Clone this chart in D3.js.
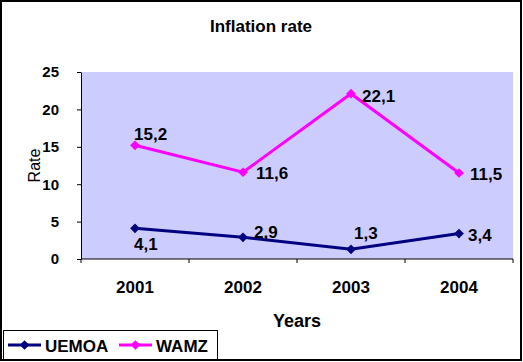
<!DOCTYPE html>
<html>
<head>
<meta charset="utf-8">
<script src="https://cdn.jsdelivr.net/npm/d3@7"></script>
<style>
  body { margin: 0; background: #fff; }
  svg { display: block; font-family: "Liberation Sans", Arial, sans-serif; }
</style>
</head>
<body>
<svg id="chart" width="523" height="362"></svg>
<script>
const years = ["2001", "2002", "2003", "2004"];
const uemoa = [4.1, 2.9, 1.3, 3.4];
const wamz = [15.2, 11.6, 22.1, 11.5];
const yTicks = [0, 5, 10, 15, 20, 25];

// label offsets from each point [dx, dy]
const uemoaLabelOffsets = [[-1, 22], [11, 1], [3, -10], [9, 7]];
const wamzLabelOffsets = [[-1, -5], [13, 7], [11, 8], [11, 7]];

const series = [
  { name: "UEMOA", values: uemoa, color: "#000080", offsets: uemoaLabelOffsets },
  { name: "WAMZ", values: wamz, color: "#ff00ff", offsets: wamzLabelOffsets },
];

const svg = d3.select("#chart");
const margin = { left: 81, right: 10, top: 72, bottom: 103 };
const width = +svg.attr("width");
const height = +svg.attr("height");

svg.append("rect")
  .attr("x", 1).attr("y", 1)
  .attr("width", width - 3).attr("height", height - 3)
  .attr("fill", "#fff").attr("stroke", "#000").attr("stroke-width", 2);

const x = d3.scaleBand(years, [margin.left, width - margin.right]);
const y = d3.scaleLinear([0, 25], [height - margin.bottom, margin.top]);

svg.append("rect")
  .attr("x", margin.left).attr("y", y(25))
  .attr("width", width - margin.right - margin.left)
  .attr("height", y(0) - y(25))
  .attr("fill", "#ccccff");

// y axis
const yAxis = svg.append("g")
  .attr("transform", `translate(${margin.left},0)`)
  .call(d3.axisLeft(y).tickValues(yTicks).tickSize(4).tickSizeOuter(0).tickPadding(18));
yAxis.selectAll("text")
  .attr("font-size", 15).attr("font-weight", "bold").attr("fill", "#000")
  .attr("font-family", "Liberation Sans, Arial, sans-serif");

// x axis with ticks at band edges
const xAxis = svg.append("g")
  .attr("transform", `translate(0,${y(0)})`)
  .call(d3.axisBottom(x).tickSize(0).tickPadding(22));
xAxis.select(".domain").remove();
xAxis.selectAll("text")
  .attr("font-size", 17).attr("font-weight", "bold").attr("fill", "#000")
  .attr("font-family", "Liberation Sans, Arial, sans-serif");

const edges = years.map((d) => x(d)).concat([x(years[years.length - 1]) + x.bandwidth()]);
svg.append("g").selectAll("line").data(edges).join("line")
  .attr("x1", (d) => d).attr("x2", (d) => d)
  .attr("y1", y(0)).attr("y2", y(0) + 4)
  .attr("stroke", "#000");
svg.append("line")
  .attr("x1", margin.left).attr("x2", width - margin.right)
  .attr("y1", y(0)).attr("y2", y(0))
  .attr("stroke", "#000");

const cx = (i) => x(years[i]) + x.bandwidth() / 2;
const diamond = d3.symbol().type(d3.symbolDiamond2).size(60);
const line = d3.line().x((d, i) => cx(i)).y((d) => y(d));

series.forEach((s) => {
  svg.append("path")
    .attr("d", line(s.values))
    .attr("fill", "none")
    .attr("stroke", s.color)
    .attr("stroke-width", 3);
  svg.append("g").selectAll("path").data(s.values).join("path")
    .attr("d", diamond)
    .attr("transform", (d, i) => `translate(${cx(i)},${y(d)})`)
    .attr("fill", s.color);
  svg.append("g").selectAll("text").data(s.values).join("text")
    .attr("x", (d, i) => cx(i) + s.offsets[i][0])
    .attr("y", (d, i) => y(d) + s.offsets[i][1])
    .attr("font-size", 17).attr("font-weight", "bold")
    .text((d) => String(d).replace(".", ","));
});

// titles
svg.append("text")
  .attr("x", 261).attr("y", 32)
  .attr("text-anchor", "middle")
  .attr("font-size", 17).attr("font-weight", "bold")
  .text("Inflation rate");

svg.append("text")
  .attr("x", 297).attr("y", 327)
  .attr("text-anchor", "middle")
  .attr("font-size", 18).attr("font-weight", "bold")
  .text("Years");

svg.append("text")
  .attr("transform", `translate(40,${(y(0) + y(25)) / 2}) rotate(-90)`)
  .attr("text-anchor", "middle")
  .attr("font-size", 16)
  .text("Rate");

// legend
const legend = svg.append("g");
legend.append("rect")
  .attr("x", 3.5).attr("y", 330.5)
  .attr("width", 214).attr("height", 29)
  .attr("fill", "#fff").attr("stroke", "#000");

const legendX = [8, 119];
series.forEach((s, i) => {
  const g = legend.append("g").attr("transform", `translate(${legendX[i]},345)`);
  g.append("line")
    .attr("x1", 0).attr("x2", 33)
    .attr("stroke", s.color).attr("stroke-width", 3);
  g.append("path")
    .attr("d", diamond)
    .attr("transform", "translate(16.5,0)")
    .attr("fill", s.color);
  g.append("text")
    .attr("x", 37).attr("y", 6.5)
    .attr("font-size", 17).attr("font-weight", "bold")
    .text(s.name);
});
</script>
</body>
</html>
